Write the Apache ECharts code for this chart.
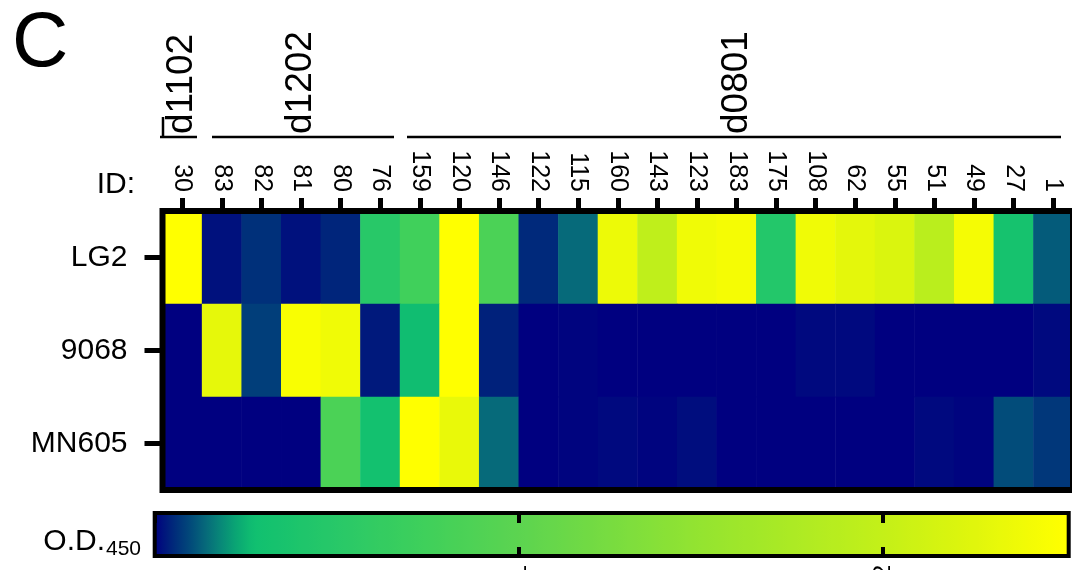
<!DOCTYPE html>
<html>
<head>
<meta charset="utf-8">
<script src="https://cdn.jsdelivr.net/npm/echarts@6/dist/echarts.min.js"></script>
<style>
  html, body { margin: 0; padding: 0; background: #fff; }
  #chart { width: 1072px; height: 570px; }
</style>
</head>
<body>
<div id="chart"></div>
<script>
// Sample IDs (columns), antigens (rows) and donor groups
const ids = ['30', '83', '82', '81', '80', '76', '159', '120', '146', '122', '115', '160',
             '143', '123', '183', '175', '108', '62', '55', '51', '49', '27', '1'];
const antigens = ['LG2', '9068', 'MN605'];
const groupNames = ['d1102', 'd1202', 'd0801'];
const groupSizes = [1, 5, 17];

// O.D.450 readings per antigen, one value per sample ID
const odLG2   = [2.50, 0.02, 0.06, 0.02, 0.045, 0.50, 0.75, 2.50, 0.85, 0.05, 0.14, 2.35,
                 1.95, 2.38, 2.42, 0.45, 2.38, 2.28, 2.20, 1.90, 2.42, 0.33, 0.12];
const od9068  = [0.00, 2.30, 0.08, 2.45, 2.38, 0.03, 0.27, 2.50, 0.04, 0.00, 0.005, 0.00,
                 0.00, 0.00, 0.00, 0.00, 0.01, 0.01, 0.00, 0.00, 0.00, 0.00, 0.01];
const odMN605 = [0.00, 0.00, 0.00, 0.00, 0.85, 0.30, 2.50, 2.32, 0.14, 0.00, 0.005, 0.01,
                 0.005, 0.015, 0.00, 0.00, 0.00, 0.00, 0.00, 0.01, 0.005, 0.10, 0.07];

// Colour scale range and colour bar tick step
const odMin = 0;
const odMax = 2.5;
const odTickStep = 1;

// Colour scale anchors: [O.D. value, colour]
const scaleStops = [
  [0.00, '#000080'], [0.03, '#001a7c'], [0.06, '#00307a'], [0.10, '#024c7a'],
  [0.14, '#066a7a'], [0.18, '#088878'], [0.22, '#0aa474'], [0.27, '#10c070'],
  [0.50, '#28c868'], [0.75, '#40d05a'], [1.00, '#5cd450'], [1.25, '#78dc40'],
  [1.50, '#94e430'], [1.75, '#acea24'], [2.00, '#c4f018'], [2.25, '#e0f60c'],
  [2.50, '#ffff00']
];

function hexToRgb(h) {
  return [parseInt(h.slice(1, 3), 16), parseInt(h.slice(3, 5), 16), parseInt(h.slice(5, 7), 16)];
}
function colourAt(v) {
  for (let i = 1; i < scaleStops.length; i++) {
    const [v0, c0] = scaleStops[i - 1];
    const [v1, c1] = scaleStops[i];
    if (v <= v1 + 1e-9) {
      const t = (v - v0) / (v1 - v0);
      const a = hexToRgb(c0), b = hexToRgb(c1);
      const m = a.map((x, k) => Math.round(x + (b[k] - x) * t));
      return 'rgb(' + m.join(',') + ')';
    }
  }
  return scaleStops[scaleStops.length - 1][1];
}
// evenly spaced colour list shared by the visual map and the drawn colour bar
const RAMP_N = 125;
const rampColours = [];
for (let i = 0; i <= RAMP_N; i++) rampColours.push(colourAt(odMin + (odMax - odMin) * i / RAMP_N));

// heatmap cells: [column, row, value]
const cells = [];
[odLG2, od9068, odMN605].forEach((row, r) => row.forEach((v, c) => cells.push([c, r, v])));

// centre column of each donor group
const groupCentre = {};
let start = 0;
groupSizes.forEach((n, g) => { groupCentre[start + (n - 1) / 2] = groupNames[g]; start += n; });

const FONT = "'Liberation Sans', Arial, Helvetica, sans-serif";

// layout of the heatmap box and colour bar
const hm = { left: 162.5, top: 211, width: 910.5, height: 279 };
const cb = { left: 155, top: 515, width: 910, height: 40 };
const cbFrame = { x: 154.7, y: 513, width: 914, height: 43 };
// the scale axis runs on past the frame so that only whole-number ticks fall inside it
const cbAxisMax = Math.ceil(odMax / odTickStep) * odTickStep;
const cbAxisWidth = cb.width * (cbAxisMax - odMin) / (odMax - odMin);
// the ramp fills the frame; colours beyond the scale maximum stay at the top colour
const cbFill = cbFrame.x + cbFrame.width - cb.left;
const cbStops = rampColours.map((c, i) => ({ offset: (i / RAMP_N) * cb.width / cbFill, color: c }));
cbStops.push({ offset: 1, color: rampColours[RAMP_N] });

const chart = echarts.init(document.getElementById('chart'), null, { renderer: 'canvas' });

chart.setOption({
  animation: false,
  backgroundColor: '#fff',
  textStyle: { fontFamily: FONT, color: '#000' },
  grid: [
    { left: hm.left, top: hm.top, width: hm.width, height: hm.height, outerBoundsMode: 'none', containLabel: false },
    { left: cb.left, top: cb.top, width: cbAxisWidth, height: cb.height, outerBoundsMode: 'none', containLabel: false }
  ],
  xAxis: [
    { // sample IDs
      type: 'category', gridIndex: 0, position: 'top', data: ids,
      axisLine: { show: false },
      axisTick: { show: true, alignWithLabel: true, interval: 0, length: 13,
                  lineStyle: { color: '#000', width: 5 } },
      axisLabel: { interval: 0, rotate: 90, margin: 19, fontSize: 25, color: '#000', fontFamily: FONT },
      splitLine: { show: false }, splitArea: { show: false }
    },
    { // donor group names
      type: 'category', gridIndex: 0, position: 'top', data: ids,
      axisLine: { show: false }, axisTick: { show: false },
      axisLabel: {
        interval: (i) => groupCentre[i] !== undefined,
        formatter: (v, i) => groupCentre[i] || '',
        rotate: -90, margin: 77, fontSize: 37, color: '#000', fontFamily: FONT
      },
      splitLine: { show: false }, splitArea: { show: false }
    },
    { // colour bar scale, lower edge
      type: 'value', gridIndex: 1, position: 'bottom', min: odMin, max: cbAxisMax, interval: odTickStep,
      z: 20,
      axisLine: { show: false },
      axisTick: { show: true, inside: true, length: 8, lineStyle: { color: '#000', width: 4 } },
      axisLabel: { rotate: 90, margin: 10, fontSize: 24, color: '#000', fontFamily: FONT,
                   showMinLabel: false, showMaxLabel: false },
      splitLine: { show: false }
    },
    { // colour bar scale, upper edge
      type: 'value', gridIndex: 1, position: 'top', min: odMin, max: cbAxisMax, interval: odTickStep,
      z: 20,
      axisLine: { show: false },
      axisTick: { show: true, inside: true, length: 8, lineStyle: { color: '#000', width: 4 } },
      axisLabel: { show: false },
      splitLine: { show: false }
    }
  ],
  yAxis: [
    {
      type: 'category', gridIndex: 0, data: antigens, inverse: true,
      axisLine: { show: false },
      axisTick: { show: true, alignWithLabel: true, length: 18, lineStyle: { color: '#000', width: 5 } },
      axisLabel: { margin: 35, fontSize: 30, color: '#000', fontFamily: FONT },
      splitLine: { show: false }, splitArea: { show: false }
    },
    { type: 'value', gridIndex: 1, show: false, min: 0, max: 1 }
  ],
  visualMap: {
    type: 'continuous', seriesIndex: 0, min: odMin, max: odMax,
    show: false,
    inRange: { color: rampColours }
  },
  series: [{
    type: 'heatmap', xAxisIndex: 0, yAxisIndex: 0, data: cells,
    itemStyle: { borderWidth: 0 },
    emphasis: { disabled: true },
    progressive: 0
  }],
  graphic: [
    // colour bar: same ramp as the visual map, spread along the scale axis
    { type: 'rect', z: -10, shape: { x: cb.left, y: cb.top, width: cbFill, height: cb.height },
      style: { fill: new echarts.graphic.LinearGradient(0, 0, 1, 0, cbStops) } },
    { type: 'rect', z: 100, shape: { x: hm.left, y: hm.top, width: hm.width, height: hm.height },
      style: { fill: 'none', stroke: '#000', lineWidth: 6 } },
    { type: 'rect', z: 100, shape: cbFrame,
      style: { fill: 'none', stroke: '#000', lineWidth: 4 } },
    // group brackets
    { type: 'line', z: 100, shape: { x1: 160, y1: 137, x2: 197, y2: 137 }, style: { stroke: '#000', lineWidth: 2.5 } },
    { type: 'line', z: 100, shape: { x1: 163, y1: 117, x2: 163, y2: 137 }, style: { stroke: '#000', lineWidth: 2.5 } },
    { type: 'line', z: 100, shape: { x1: 212, y1: 137, x2: 394, y2: 137 }, style: { stroke: '#000', lineWidth: 2.5 } },
    { type: 'line', z: 100, shape: { x1: 407, y1: 137, x2: 1061, y2: 137 }, style: { stroke: '#000', lineWidth: 2.5 } },
    // panel letter and side captions
    { type: 'text', z: 100, style: { x: 12, y: 44, text: 'C', font: '78px ' + FONT, fill: '#000',
      textAlign: 'left', textVerticalAlign: 'middle' } },
    { type: 'text', z: 100, style: { x: 135, y: 185, text: 'ID:', font: '30px ' + FONT, fill: '#000',
      textAlign: 'right', textVerticalAlign: 'middle' } },
    { type: 'text', z: 100, style: { x: 105, y: 542, text: 'O.D.', font: '30px ' + FONT, fill: '#000',
      textAlign: 'right', textVerticalAlign: 'middle' } },
    { type: 'text', z: 100, style: { x: 106, y: 549.5, text: '450', font: '21px ' + FONT, fill: '#000',
      textAlign: 'left', textVerticalAlign: 'middle' } }
  ]
});
</script>
</body>
</html>
